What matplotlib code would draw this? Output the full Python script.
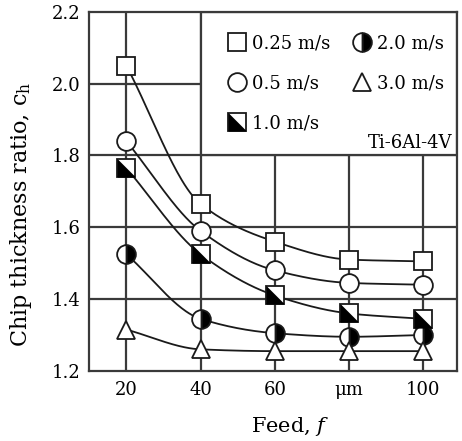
import numpy as np
import matplotlib
matplotlib.use('Agg')
from matplotlib import pyplot as plt
from matplotlib.patches import Rectangle

plt.rcParams['font.family'] = ['DejaVu Serif']
plt.rcParams['mathtext.fontset'] = 'dejavuserif'

# data
feed = [20, 40, 60, 80, 100]
v025 = [2.05, 1.665, 1.56, 1.51, 1.505]
v05 = [1.84, 1.59, 1.48, 1.445, 1.44]
v10 = [1.765, 1.525, 1.41, 1.36, 1.345]
v20 = [1.525, 1.345, 1.305, 1.295, 1.30]
v30 = [1.315, 1.26, 1.255, 1.255, 1.255]
xticklabels = ['20', '40', '60', 'μm', '100']
yticks = [1.2, 1.4, 1.6, 1.8, 2.0, 2.2]


def pchip(x, y, n=200):
    # monotone cubic hermite for a smooth line through the points
    x = np.asarray(x, float)
    y = np.asarray(y, float)
    h = np.diff(x)
    d = np.diff(y) / h
    m = np.zeros_like(y)
    for k in range(1, len(x) - 1):
        if d[k - 1] * d[k] > 0:
            w1 = 2 * h[k] + h[k - 1]
            w2 = h[k] + 2 * h[k - 1]
            m[k] = (w1 + w2) / (w1 / d[k - 1] + w2 / d[k])
    m[0] = d[0]
    m[-1] = d[-1]
    xs = np.linspace(x[0], x[-1], n)
    idx = np.clip(np.searchsorted(x, xs) - 1, 0, len(x) - 2)
    t = (xs - x[idx]) / h[idx]
    h00 = 2 * t**3 - 3 * t**2 + 1
    h10 = t**3 - 2 * t**2 + t
    h01 = -2 * t**3 + 3 * t**2
    h11 = t**3 - t**2
    ys = h00 * y[idx] + h10 * h[idx] * m[idx] + h01 * y[idx + 1] + h11 * h[idx] * m[idx + 1]
    return xs, ys


fig = plt.figure(figsize=(4.62, 4.41), dpi=100)
ax = fig.add_axes([0.193, 0.159, 0.796, 0.814])
ax.set_xlim(10, 109)
ax.set_ylim(1.2, 2.2)

gc = '#3a3a3a'
for xv in feed:
    ax.axvline(xv, color=gc, lw=1.6, zorder=1)
for yv in yticks[1:-1]:
    ax.axhline(yv, color=gc, lw=1.6, zorder=1)

# white box for the legend (covers the grid)
ax.add_patch(Rectangle((40, 1.8), 69, 0.4, facecolor='white', edgecolor=gc,
                       lw=1.6, zorder=2))

lc = '#1a1a1a'
ms = 12.5
mew = 1.3
for ys in [v025, v05, v10, v20, v30]:
    xs, yy = pchip(feed, ys)
    ax.plot(xs, yy, color=lc, lw=1.3, zorder=3)

h1, = ax.plot(feed, v025, ls='none', marker='s', ms=ms, mfc='white', mec=lc, mew=mew, zorder=4)
h2, = ax.plot(feed, v05, ls='none', marker='o', ms=ms + 1, mfc='white', mec=lc, mew=mew, zorder=4)
ax.plot(feed, v10, ls='none', marker='s', ms=ms, mfc='white', mec=lc, mew=mew, zorder=4)
tri = [(-1, -1), (-1, 1), (1, -1), (-1, -1)]
ax.plot(feed, v10, ls='none', marker=tri, ms=ms, mfc='black', mec='black', mew=0.5, zorder=5)
h4, = ax.plot(feed, v20, ls='none', marker='o', ms=ms + 1, fillstyle='right', mfc='black',
              markerfacecoloralt='white', mec=lc, mew=mew, zorder=4)
h5, = ax.plot(feed, v30, ls='none', marker='^', ms=ms, mfc='white', mec=lc, mew=mew, zorder=4)

# legend handle for 1.0 m/s: square with lower-left half black
h3a, = ax.plot([], [], ls='none', marker='s', ms=ms, mfc='white', mec=lc, mew=mew)
h3b, = ax.plot([], [], ls='none', marker=tri, ms=ms, mfc='black', mec='black', mew=0.5)

leg = ax.legend([h1, h2, (h3a, h3b), h4, h5],
                ['0.25 m/s', '0.5 m/s', '1.0 m/s', '2.0 m/s', '3.0 m/s'],
                ncol=2, loc='upper left', bbox_to_anchor=(0.359, 0.958),
                frameon=False, fontsize=13, handlelength=0.9, handletextpad=0.42,
                columnspacing=1.28, labelspacing=1.22, borderaxespad=0, borderpad=0.4)
leg.set_zorder(6)
ax.text(107.7, 1.836, 'Ti-6Al-4V', fontsize=13, ha='right', va='center', zorder=6)

ax.set_xticks(feed)
ax.set_xticklabels(xticklabels)
ax.set_yticks(yticks)
ax.set_yticklabels(['%.1f' % v for v in yticks])
ax.tick_params(axis='y', length=0, labelsize=13, pad=6.5)
ax.tick_params(axis='x', length=0, labelsize=13, pad=7)
for s in ax.spines.values():
    s.set_color(gc)
    s.set_linewidth(1.6)
    s.set_zorder(7)

ax.set_xlabel('Feed, $f$', fontsize=15)
ax.set_ylabel('Chip thickness ratio, c$_\\mathrm{h}$', fontsize=16)
ax.xaxis.set_label_coords(0.546, -0.123)
ax.yaxis.set_label_coords(-0.149, 0.437)

plt.savefig('out.png', dpi=100)
